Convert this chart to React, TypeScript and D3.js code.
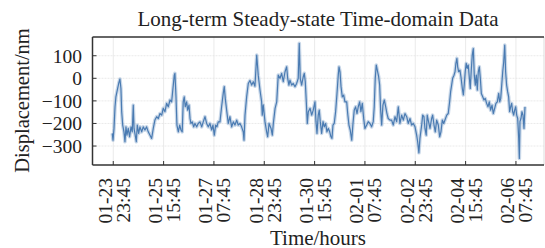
import React from 'react';
import * as d3 from 'd3';

// hours since 01-23 23:45
const hours = [
  -0.8, -0.2, 0.6, 1.4, 2.1, 3.2, 4.3, 5.3, 6.1, 6.7, 7.5, 8.5, 9.3, 10.1, 10.9, 11.9, 13.0, 14.1, 15.1, 15.9,
  16.5, 17.2, 18.3, 19.1, 20.2, 21.2, 22.6, 23.8, 25.2, 26.5, 27.8, 29.2, 30.5, 31.8, 33.1, 34.5, 35.8, 37.1, 38.5, 39.7,
  41.1, 42.4, 43.7, 45.1, 46.4, 47.7, 48.5, 49.0, 49.8, 50.6, 51.7, 52.8, 53.8, 54.8, 55.6, 56.4, 57.2, 58.3, 59.1, 60.2,
  61.0, 61.7, 62.8, 63.9, 64.9, 66.3, 67.5, 68.9, 70.3, 71.5, 72.9, 74.2, 75.5, 76.8, 78.2, 79.2, 80.3, 81.4, 82.4, 83.4,
  84.8, 86.1, 87.4, 88.2, 89.0, 90.1, 91.4, 92.7, 94.1, 95.4, 96.7, 98.1, 99.3, 100.7, 102.0, 103.3, 103.9, 104.7, 106.0, 107.3,
  108.6, 110.0, 111.3, 112.6, 114.0, 115.2, 116.6, 117.9, 118.4, 119.2, 120.6, 121.9, 122.7, 123.8, 125.4, 126.4, 127.2, 128.6, 129.9, 131.1,
  132.5, 133.8, 135.1, 136.5, 137.8, 138.6, 139.6, 140.4, 141.8, 143.0, 144.4, 145.7, 147.0, 147.8, 148.6, 149.7, 151.0, 151.8, 152.6, 153.4,
  154.2, 155.0, 156.4, 157.7, 158.9, 160.3, 161.1, 161.9, 162.9, 163.7, 164.5, 165.6, 166.7, 167.7, 168.8, 169.8, 170.9, 172.0, 173.0, 173.8,
  174.6, 175.6, 176.7, 177.8, 178.8, 179.4, 180.2, 181.0, 182.0, 183.1, 184.1, 185.5, 186.3, 187.3, 188.3, 189.5, 190.5, 191.5, 192.6, 193.7,
  194.7, 195.8, 196.8, 197.9, 199.0, 200.0, 201.4, 202.6, 204.0, 205.3, 206.6, 207.4, 208.2, 209.0, 210.1, 210.9, 211.7, 212.5, 213.3, 214.3,
  215.4, 216.5, 217.5, 218.5, 219.9, 221.2, 222.5, 223.9, 225.2, 226.5, 227.8, 229.2, 230.5, 231.8, 233.2, 234.4, 235.8, 237.1, 238.4, 239.8,
  241.1, 241.9, 242.9, 243.7, 245.1, 245.9, 246.9, 247.7, 248.7, 249.5, 250.3, 251.7, 253.0, 253.8, 254.9, 255.9, 257.0, 258.3, 259.4, 260.4,
  261.5, 262.6, 263.6, 265.0, 266.2, 267.3, 268.1, 268.9, 269.7, 270.8, 271.6, 272.3, 273.1, 273.7, 274.5, 275.5, 276.3, 277.4, 278.2, 279.0,
  279.7, 280.5, 281.3, 282.1, 282.9, 283.7, 284.5, 285.3, 286.1, 286.9, 287.7, 288.5, 289.3, 290.1, 290.9, 291.7, 292.5, 293.6, 294.6, 295.6,
  296.7, 297.8, 298.8, 299.9, 301.0, 302.0, 303.1, 304.1, 305.2, 306.3, 307.1, 307.9, 308.7, 309.5, 310.3, 311.1, 311.8, 312.6, 313.4, 314.2,
  315.0, 315.8, 316.6, 317.4, 318.2, 319.0, 319.8, 320.6, 321.4, 322.2, 322.7, 323.2, 324.0, 324.8, 325.6, 326.4, 327.2,
];

// displacement in nm
const displacement = [
  -244, -274, -222, -126, -82, -52, -23, -3, -45, -148, -207, -237, -281, -215, -252, -222, -259, -215, -237, -119,
  -222, -244, -281, -207, -244, -215, -237, -215, -229, -215, -237, -252, -266, -222, -185, -170, -178, -156, -163, -133,
  -148, -111, -126, -96, -104, -30, 14, 22, -74, -207, -237, -207, -229, -237, -104, -82, -126, -104, -141, -119,
  -178, -200, -193, -215, -200, -215, -200, -193, -215, -193, -170, -200, -215, -200, -229, -207, -252, -207, -215, -193,
  -193, -126, -67, -37, -89, -141, -200, -170, -215, -193, -207, -185, -207, -200, -215, -237, -274, -163, -82, -23,
  -10, -30, -15, -35, 103, 14, -52, -104, -163, -118, -193, -237, -259, -200, -222, -252, -200, -133, -104, 14,
  0, 22, -15, 29, 51, 0, -30, -8, -30, -23, -37, -23, 0, 155, 0, -30, 7, 22, -15, -104,
  -200, -148, -133, -163, -141, -104, -192, -244, -163, -141, -192, -244, -192, -215, -200, -237, -222, -237, -259, -266,
  -207, -200, -148, -67, 14, 51, 29, -37, -82, -74, -104, -104, -156, -207, -229, -274, -200, -141, -126, -156,
  -126, -104, -148, -111, -178, -222, -207, -192, -200, -215, -192, -126, 0, 59, 29, 7, -30, -141, -207, -119,
  -96, -126, -156, -178, -185, -185, -207, -170, -192, -126, -200, -163, -185, -156, -170, -200, -178, -207, -200, -215,
  -252, -281, -330, -266, -207, -163, -170, -222, -252, -163, -185, -222, -178, -163, -207, -237, -185, -207, -259, -237,
  -185, -200, -185, -163, -156, -104, -59, -30, 0, 14, 29, 66, 88, 51, 29, 36, 7, -45, -74, -23,
  29, 66, 44, 59, 7, -45, 36, 103, 132, 14, -30, 14, -52, 29, 51, 0, -67, -82, -96, -89,
  -111, -126, -104, -141, -119, -156, -133, -111, -104, -67, -104, -89, -30, 29, 73, 147, 29, -30, -59, -82,
  -148, -126, -111, -148, -163, -141, -126, -163, -178, -266, -355, -192, -178, -148, -163, -222, -126,
];

const tickHours = [0, 40, 80, 120, 160, 200, 240, 280, 320];
const tickDates = ['01-23', '01-25', '01-27', '01-28', '01-30', '02-01', '02-02', '02-04', '02-06'];
const tickTimes = ['23:45', '15:45', '07:45', '23:45', '15:45', '07:45', '23:45', '15:45', '07:45'];
const yTicks = [100, 0, -100, -200, -300];
const yTickLabels = ['100', '0', '\u2212100', '\u2212200', '\u2212300'];

const FONT = "'Liberation Serif', 'Times New Roman', serif";
const LINE_COLOR = '#4a7bb2';

export default function App() {
  const W = 545;
  const H = 248;
  const m = { left: 92.5, right: 544, top: 37, bottom: 165 };
  const x = d3.scaleLinear().domain([-16.5, 342.3]).range([m.left, m.right]);
  const y = d3.scaleLinear().domain([-384, 183]).range([m.bottom, m.top]);
  const line = d3
    .line<number>()
    .x((_, i) => x(hours[i]))
    .y((d) => y(d));
  const path = line(displacement) || '';

  return (
    <svg
      width={W}
      height={H}
      style={{ position: 'absolute', left: 0, top: 0, background: '#fff' }}
      fontFamily={FONT}
    >
      <rect x={0} y={0} width={W} height={H} fill="#fff" />
      {/* grid */}
      {tickHours.map((h) => (
        <line key={'gx' + h} x1={x(h)} x2={x(h)} y1={m.top} y2={m.bottom} stroke="#e4e4e4" strokeWidth={0.8} />
      ))}
      {yTicks.map((v) => (
        <line key={'gy' + v} x1={m.left} x2={m.right} y1={y(v)} y2={y(v)} stroke="#e4e4e4" strokeWidth={0.8} strokeDasharray="2,1" />
      ))}
      {/* data */}
      <path d={path} fill="none" stroke={LINE_COLOR} strokeWidth={3.6} strokeOpacity={0.3} strokeLinejoin="round" />
      <path d={path} fill="none" stroke={LINE_COLOR} strokeWidth={1.2} strokeLinejoin="round" />
      {/* spines */}
      <line x1={m.right} x2={m.right} y1={m.top} y2={m.bottom} stroke="#dddddd" strokeWidth={1} />
      <line x1={m.left} x2={m.right} y1={m.top} y2={m.top} stroke="#333" strokeWidth={1.3} />
      <line x1={m.left} x2={m.left} y1={m.top} y2={m.bottom} stroke="#333" strokeWidth={1.5} />
      <line x1={m.left} x2={m.right} y1={m.bottom} y2={m.bottom} stroke="#333" strokeWidth={1.5} />
      {/* ticks */}
      {tickHours.map((h) => (
        <line key={'tx' + h} x1={x(h)} x2={x(h)} y1={m.bottom} y2={m.bottom - 4} stroke="#333" strokeWidth={1} />
      ))}
      {yTicks.map((v) => (
        <line key={'ty' + v} x1={m.left} x2={m.left + 4} y1={y(v)} y2={y(v)} stroke="#333" strokeWidth={1} />
      ))}
      {/* y tick labels */}
      {yTicks.map((v, i) => (
        <text key={'yl' + v} x={82} y={y(v)} dy="0.35em" textAnchor="end" fontSize={19.5} fill="#222">
          {yTickLabels[i]}
        </text>
      ))}
      {/* x tick labels */}
      {tickHours.map((h, i) => (
        <g key={'xl' + h} transform={`translate(${x(h)},178) rotate(-90)`}>
          <text x={0} y={-1.5} textAnchor="end" fontSize={19.5} fill="#222">
            {tickDates[i]}
          </text>
          <text x={0} y={16.5} textAnchor="end" fontSize={19.5} fill="#222">
            {tickTimes[i]}
          </text>
        </g>
      ))}
      {/* title */}
      <text x={318} y={26} textAnchor="middle" fontSize={21} fill="#222">
        Long-term Steady-state Time-domain Data
      </text>
      {/* axis labels */}
      <text transform="translate(29,100.5) rotate(-90)" textAnchor="middle" fontSize={20.5} fill="#222">
        Displacement/nm
      </text>
      <text x={318} y={245} textAnchor="middle" fontSize={21} fill="#222">
        Time/hours
      </text>
    </svg>
  );
}
